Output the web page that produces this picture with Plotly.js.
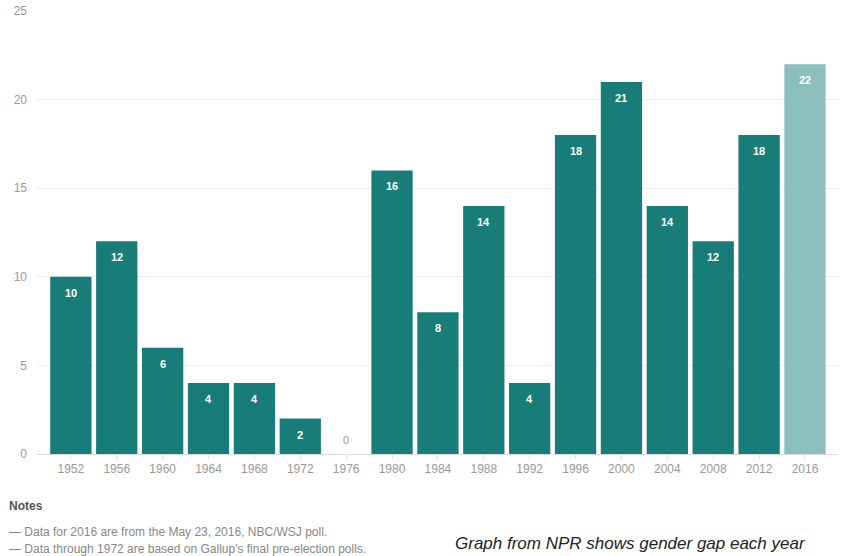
<!DOCTYPE html>
<html><head><meta charset="utf-8">
<script src="https://cdn.plot.ly/plotly-3.0.1.min.js"></script>
<style>html,body{margin:0;padding:0;background:#fff}#chart{width:842px;height:556px}</style>
</head><body><div id="chart"></div>
<script>
const years = ["1952","1956","1960","1964","1968","1972","1976","1980","1984","1988","1992","1996","2000","2004","2008","2012","2016"];
const gap = [10,12,6,4,4,2,0,16,8,14,4,18,21,14,12,18,22];
const darkTeal = "#187d78";
const lightTeal = "#8bbfbc";
const yTicks = [0,5,10,15,20,25];

const idx = years.map((_, i) => i);
const colors = years.map(y => y === "2016" ? lightTeal : darkTeal);
const FONT = 'Liberation Sans, Arial, sans-serif';

const annotations = gap.map((v, i) => ({
  x: i, y: v, xref: 'x', yref: 'y', text: String(v), showarrow: false,
  yshift: v === 0 ? 14 : -16,
  font: {family: FONT, size: 11, color: v === 0 ? '#999' : '#fff', weight: v === 0 ? 400 : 700}
}));

annotations.push(
  {xref:'paper', yref:'paper', x:0, y:0, xanchor:'left', yanchor:'middle', text:'<b>Notes</b>', showarrow:false,
   font:{family:FONT, size:12, color:'#555'}, xshift:-29, yshift:-52},
  {xref:'paper', yref:'paper', x:0, y:0, xanchor:'left', yanchor:'middle', text:'— Data for 2016 are from the May 23, 2016, NBC/WSJ poll.', showarrow:false,
   font:{family:FONT, size:12, color:'#888'}, xshift:-29, yshift:-78},
  {xref:'paper', yref:'paper', x:0, y:0, xanchor:'left', yanchor:'middle', text:'— Data through 1972 are based on Gallup\'s final pre-election polls.', showarrow:false,
   font:{family:FONT, size:12, color:'#888'}, xshift:-29, yshift:-95},
  {xref:'paper', yref:'paper', x:0, y:0, xanchor:'center', yanchor:'middle', text:'<i>Graph from NPR shows gender gap each year</i>', showarrow:false,
   font:{family:FONT, size:17, color:'#222'}, xshift:594, yshift:-89}
);

const trace = {
  type: 'bar', x: idx, y: gap, width: 0.9,
  marker: {color: colors, line: {width: 0}},
  hoverinfo: 'skip'
};

const layout = {
  width: 842, height: 556,
  margin: {l: 36, r: 4, t: 11, b: 102},
  paper_bgcolor: '#fff', plot_bgcolor: '#fff',
  showlegend: false,
  bargap: 0.1,
  font: {family: FONT, color: '#999', size: 12},
  xaxis: {
    range: [-0.76, 16.72], tickvals: idx, ticktext: years,
    showgrid: false, zeroline: false, showline: true, linecolor: '#ddd', linewidth: 1,
    ticks: 'outside', ticklen: 4, tickcolor: '#ddd',
    tickfont: {size: 12, color: '#999'}, fixedrange: true
  },
  yaxis: {
    range: [0, 25], tickvals: yTicks, showgrid: true, gridcolor: '#eeeeee', gridwidth: 1,
    zeroline: false, showline: false, ticks: '', ticklabelstandoff: 8,
    tickfont: {size: 12, color: '#999'}, fixedrange: true
  },
  annotations: annotations
};

Plotly.newPlot('chart', [trace], layout, {displayModeBar: false, staticPlot: true});
</script></body></html>
